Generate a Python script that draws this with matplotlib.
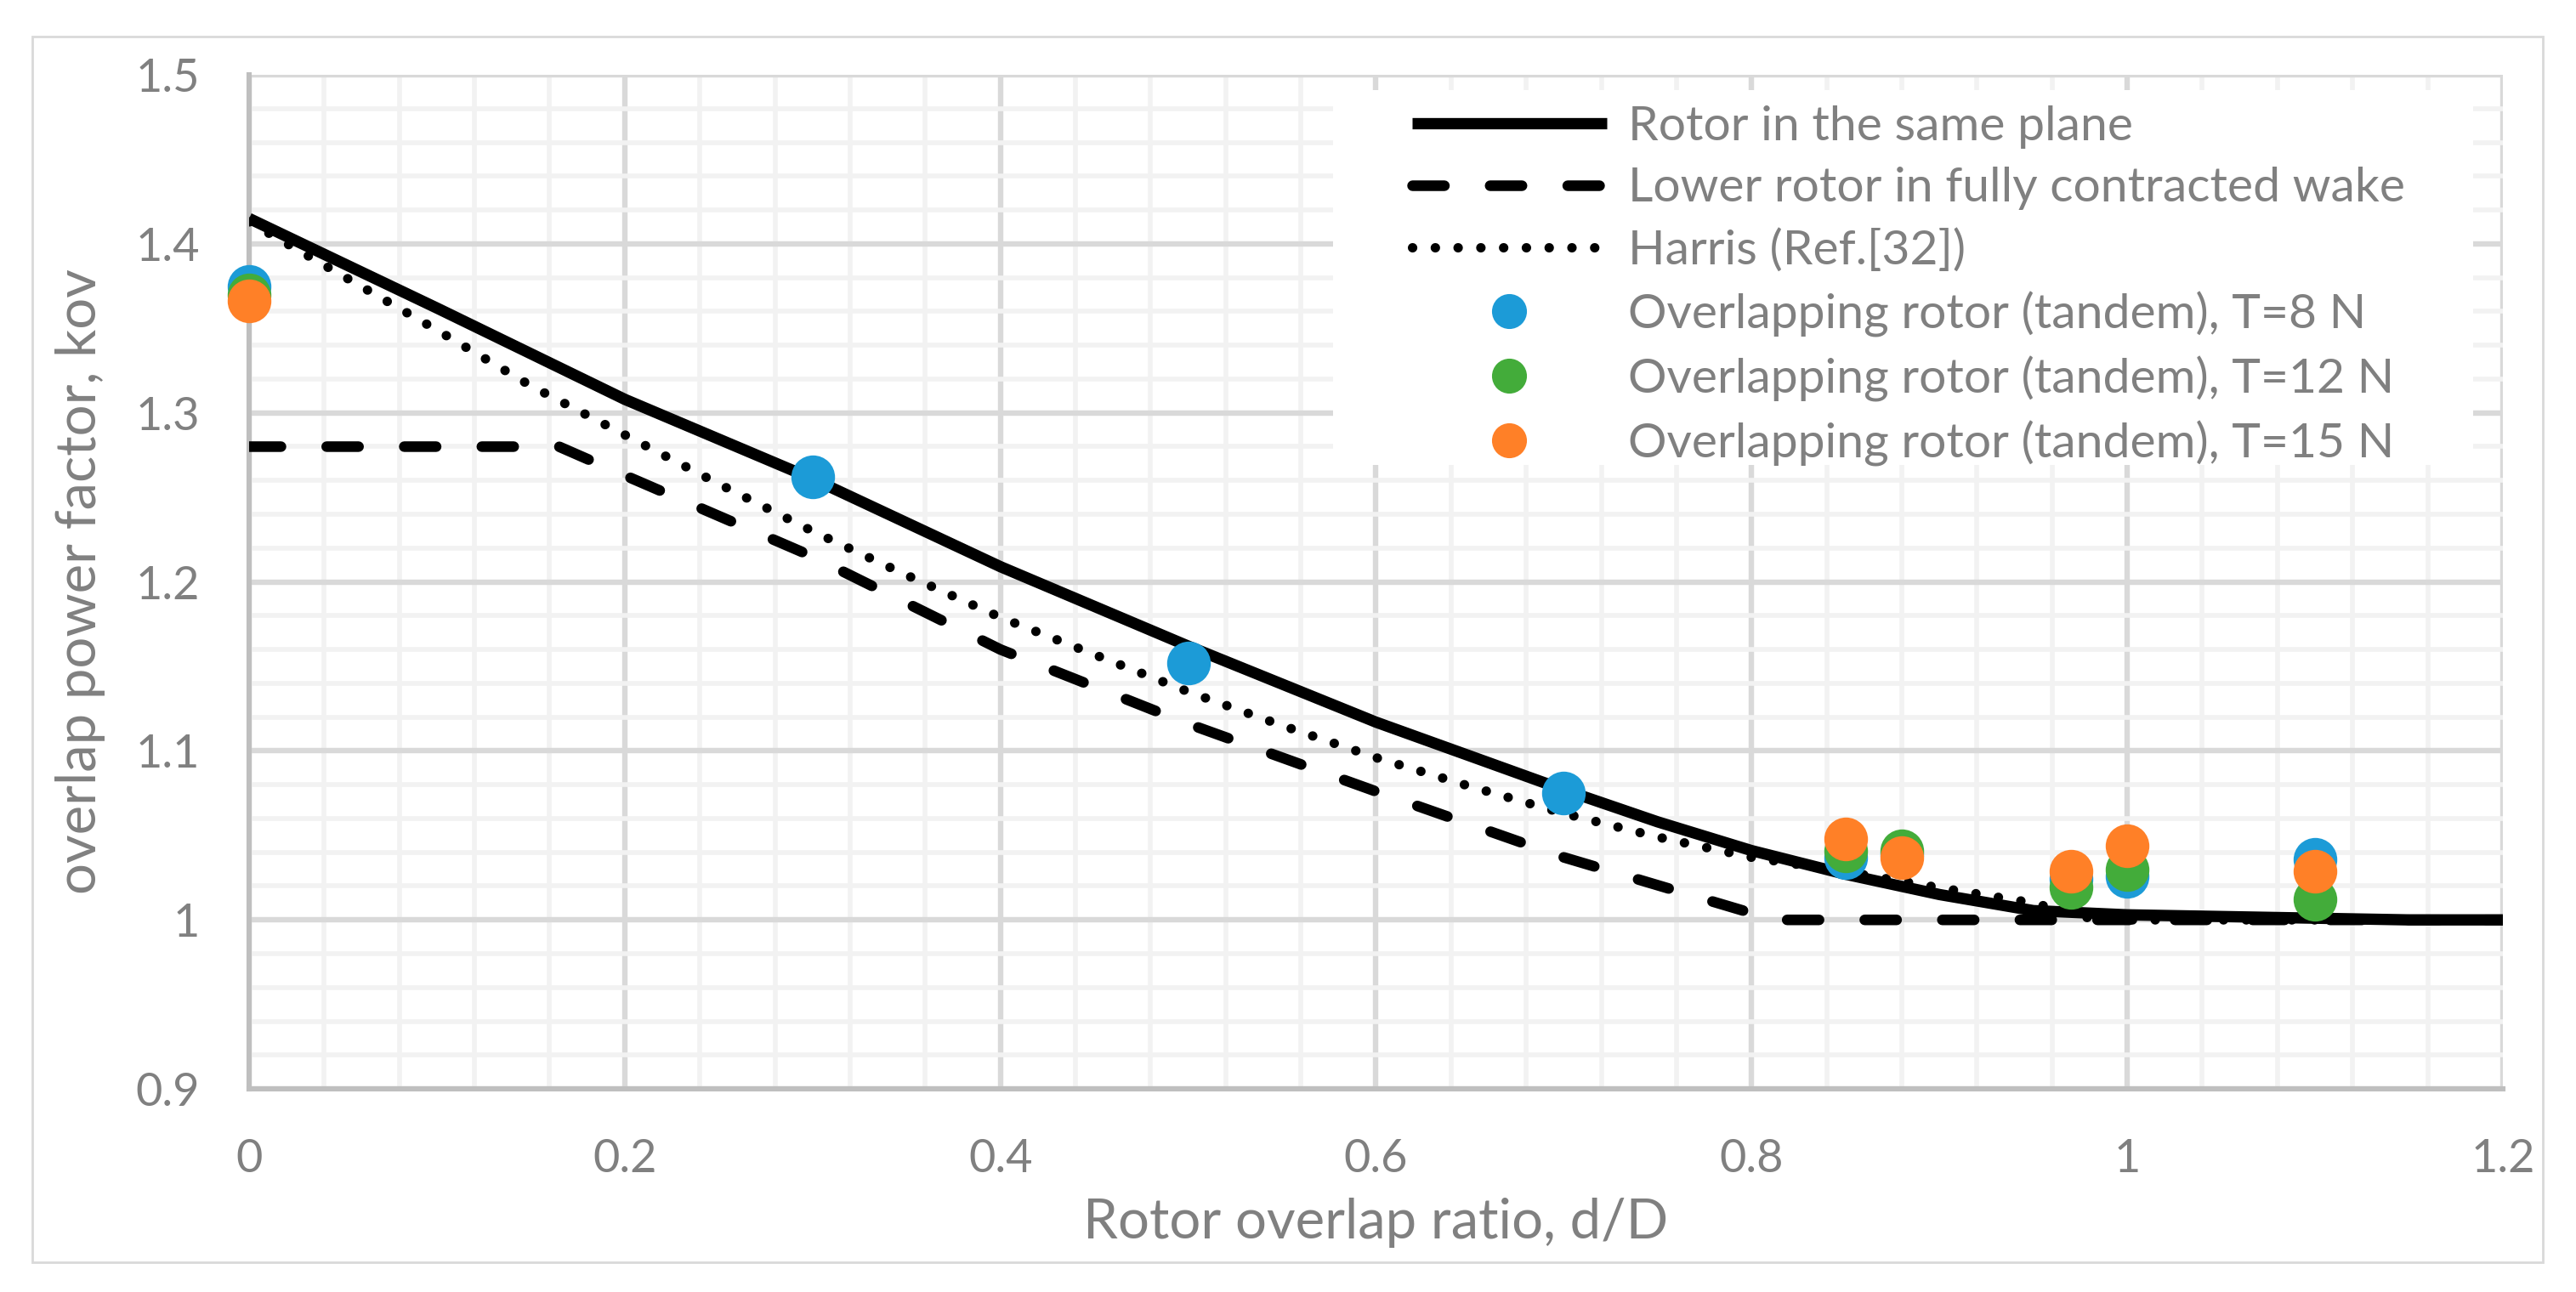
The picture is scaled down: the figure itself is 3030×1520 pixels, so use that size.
import matplotlib.pyplot as plt
from matplotlib.patches import Rectangle
from matplotlib.ticker import MultipleLocator, FuncFormatter

# Rotor in the same plane
solid_x = [0, 0.1, 0.2, 0.3, 0.4, 0.5, 0.6, 0.7, 0.75, 0.8, 0.85, 0.9, 0.95, 1.0, 1.05, 1.1, 1.15, 1.2]
solid_y = [1.415, 1.362, 1.308, 1.261, 1.209, 1.162, 1.117, 1.077, 1.058, 1.041, 1.027, 1.015,
           1.0055, 1.003, 1.002, 1.001, 1.0, 1.0]

# Lower rotor in fully contracted wake
dashed_x = [0, 0.165, 0.2, 0.3, 0.4, 0.5, 0.6, 0.7, 0.8, 0.81, 1.2]
dashed_y = [1.28, 1.28, 1.263, 1.215, 1.160, 1.116, 1.076, 1.037, 1.004, 1.0, 1.0]

# Harris (Ref.[32])
harris_x = [0, 0.05, 0.1, 0.15, 0.2, 0.25, 0.3, 0.35, 0.4, 0.45, 0.5, 0.55, 0.6, 0.65,
            0.7, 0.75, 0.8, 0.85, 0.9, 0.95, 0.98, 1.0, 1.2]
harris_y = [1.413, 1.381, 1.349, 1.316, 1.287, 1.258, 1.230, 1.204, 1.179, 1.157, 1.135,
            1.115, 1.096, 1.079, 1.063, 1.049, 1.037, 1.0285, 1.019, 1.010, 1.001, 1.0, 1.0]

# measured points, overlapping rotor (tandem)
t8_x = [0, 0.3, 0.5, 0.7, 0.85, 0.88, 0.97, 1.0, 1.1]
t8_y = [1.375, 1.262, 1.152, 1.075, 1.037, 1.039, 1.024, 1.026, 1.036]
t12_x = [0, 0.85, 0.88, 0.97, 1.0, 1.1]
t12_y = [1.370, 1.041, 1.041, 1.019, 1.030, 1.012]
t15_x = [0, 0.85, 0.88, 0.97, 1.0, 1.1]
t15_y = [1.366, 1.048, 1.037, 1.029, 1.044, 1.029]

labels = ['Rotor in the same plane', 'Lower rotor in fully contracted wake',
          'Harris (Ref.[32])', 'Overlapping rotor (tandem), T=8 N',
          'Overlapping rotor (tandem), T=12 N', 'Overlapping rotor (tandem), T=15 N']

plt.rcParams['font.family'] = ['Lato', 'DejaVu Sans']
grey = '#808080'

fig = plt.figure(figsize=(15.15, 7.6), dpi=200)
ax = fig.add_axes([0.0967, 0.1572, 0.8749, 0.7849])

# outer chart frame
fig.patches.append(Rectangle((0.0125, 0.023), 0.9746, 0.9487, transform=fig.transFigure,
                             fill=False, edgecolor='#d9d9d9', linewidth=1.0))

l_dash, = ax.plot(dashed_x, dashed_y, color='black', lw=4.5, dashes=(3.0, 4.3),
                  dash_capstyle='round', zorder=3)
l_solid, = ax.plot(solid_x, solid_y, color='black', lw=4.8, solid_capstyle='butt', zorder=3)
l_harris, = ax.plot(harris_x, harris_y, color='black', lw=4.0, dashes=(0.01, 2.4),
                    dash_capstyle='round', zorder=3)

ms = 18.5
p8, = ax.plot(t8_x, t8_y, 'o', color='#1C9BD7', ms=ms, mew=0, zorder=4, clip_on=False)
p12, = ax.plot(t12_x, t12_y, 'o', color='#43AC3A', ms=ms, mew=0, zorder=4, clip_on=False)
p15, = ax.plot(t15_x, t15_y, 'o', color='#FF8027', ms=ms, mew=0, zorder=4, clip_on=False)

ax.set_xlim(0, 1.2)
ax.set_ylim(0.9, 1.5)
ax.xaxis.set_major_locator(MultipleLocator(0.2))
ax.xaxis.set_minor_locator(MultipleLocator(0.04))
ax.yaxis.set_major_locator(MultipleLocator(0.1))
ax.yaxis.set_minor_locator(MultipleLocator(0.02))
fmt = FuncFormatter(lambda v, p: '%g' % round(v, 2))
ax.xaxis.set_major_formatter(fmt)
ax.yaxis.set_major_formatter(fmt)

ax.set_axisbelow(True)
ax.grid(which='minor', color='#f2f2f2', lw=2.0)
ax.grid(which='major', color='#d9d9d9', lw=2.3)
ax.tick_params(which='both', length=0, labelsize=19.5, labelcolor=grey)
ax.tick_params(axis='y', pad=21)
ax.tick_params(axis='x', pad=21)

for s in ['top', 'right']:
    ax.spines[s].set_visible(False)
for s in ['left', 'bottom']:
    ax.spines[s].set_color('#bfbfbf')
    ax.spines[s].set_linewidth(2.2)

ax.set_xlabel('Rotor overlap ratio, d/D', fontsize=23.5, color=grey, va='center')
ax.xaxis.set_label_coords(0.5, -0.1316)
ax.set_ylabel('overlap power factor, kov', fontsize=23.5, color=grey, va='center')
ax.yaxis.set_label_coords(-0.0747, 0.5)

# white legend background over the grid
ax.add_patch(Rectangle((0.481, 0.615), 0.506, 0.37, transform=ax.transAxes,
                       facecolor='white', edgecolor='none', zorder=1.5))

leg = ax.legend([l_solid, l_dash, l_harris, p8, p12, p15], labels, loc='upper left',
                bbox_to_anchor=(0.516, 0.970), frameon=False, borderpad=0,
                fontsize=20.5, handlelength=4.02, handletextpad=0.44,
                labelspacing=0.38, markerscale=0.8, borderaxespad=0)
for t in leg.get_texts():
    t.set_color(grey)

fig.savefig('out.png', dpi=200)
